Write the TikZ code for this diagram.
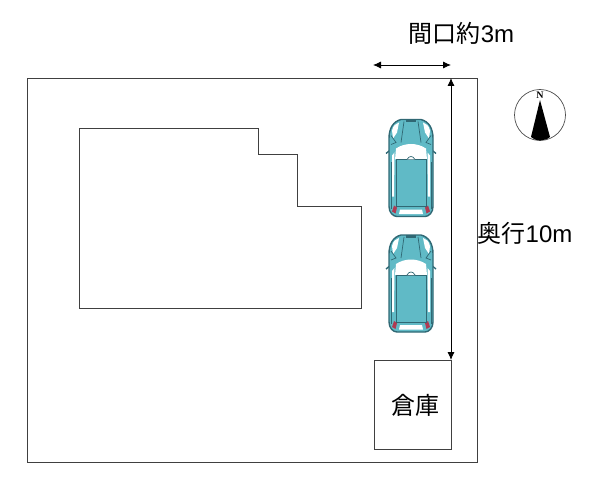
\documentclass[tikz,border=0pt]{standalone}
\usepackage{fontspec}
\setmainfont{Liberation Sans}
\newfontfamily\jpfont{Noto Sans CJK JP}
\usetikzlibrary{arrows.meta}
\definecolor{carbody}{RGB}{96,186,198}
\definecolor{carline}{RGB}{48,104,116}
\definecolor{carlamp}{RGB}{176,58,82}
\tikzset{
  wall/.style = {draw = black!75, line width = .8pt},
  dimline/.style = {draw = black, line width = .8pt, {Latex[length=8pt,width=7pt]}-{Latex[length=8pt,width=7pt]}},
  label/.style = {inner sep = 0pt, font = \fontsize{24}{24}\selectfont},
  pics/car/.style = {code = {
    % mirrors
    \draw[carline, line width = 1.4pt] (-20,-19) -- (-25,-15) (20,-19) -- (25,-15);
    % outer body
    \draw[carline, fill = carbody, line width = 1.4pt]
      (-10,-49) -- (10,-49) .. controls (18,-47) and (22,-40) .. (22,-30)
      -- (22,38) .. controls (22,44) and (18,48) .. (14,48) -- (-14,48)
      .. controls (-18,48) and (-22,44) .. (-22,38) -- (-22,-30)
      .. controls (-22,-40) and (-18,-47) .. (-10,-49) -- cycle;
    % side windows, headlamps, bonnet lines and rear lamps
    \foreach \s in {-1, 1}
    {
      \fill[white] (\s*16.5,-16) -- (\s*19,-13) -- (\s*19,28) -- (\s*17,28) -- cycle;
      \fill[white] (\s*19,-38) .. controls (\s*18,-43) and (\s*15,-45) .. (\s*12,-46) -- (\s*14,-36) -- (\s*18,-30) -- cycle;
      \draw[carline, line width = .7pt] (\s*7,-47) -- (\s*10,-26);
      \draw[carline, line width = .7pt] (\s*20,-24) -- (\s*15,-26) -- (\s*20,-33);
      \draw[carline, line width = .7pt] (\s*20,-6) -- (\s*20,40);
      \fill[carlamp] (\s*14,39) -- (\s*17,37) -- (\s*19,43) -- (\s*15.5,45) -- cycle;
    }
    % windscreen, rear window and roof
    \fill[white] (-15,-20) .. controls (-6,-26) and (6,-26) .. (15,-20) -- (16,-9) -- (-16,-9) -- cycle;
    \draw[carline, line width = .7pt, fill = carbody] (-15,-9) -- (15,-9) -- (15,38) -- (-15,38) -- cycle;
    \draw[carline, line width = .7pt, fill = white] (-4,-9) .. controls (-2,-13) and (2,-13) .. (4,-9);
    \fill[white] (-11,41) -- (11,41) -- (12,45.5) -- (-12,45.5) -- cycle;
    \fill[carline] (-5,-49) rectangle (5,-46.5);
  }}
}
\newcommand{\jplabel}[2]{{\jpfont #1}#2}
\begin{document}
\begin{tikzpicture}
  [x = 1pt, y = -1pt]
  \useasboundingbox (0,0) rectangle (600,484);
  \draw[wall] (27,78) rectangle (477,462);
  \draw[wall] (79,128) -- (258,128) -- (258,154) -- (297,154) -- (297,206) -- (361,206) -- (361,308) -- (79,308) -- cycle;
  \draw[wall] (374,360) rectangle (451,449);
  \node[label] (shed) at (415,405) {\jplabel{倉庫}{}};
  \pic at (411,168.5) {car};
  \pic at (411,284) {car};
  % frontage and depth
  \coordinate (frontL) at (373,65);
  \coordinate (frontR) at (451,65);
  \coordinate (depthT) at (451,78);
  \coordinate (depthB) at (451,360);
  \draw[dimline] (frontL) -- (frontR);
  \draw[dimline] (depthT) -- (depthB);
  \node[label] (frontage) at (461.5,33) {\jplabel{間口約}{3m}};
  \node[label] (depth) at (525,233) {\jplabel{奥行}{10m}};
  % north mark
  \node[draw = black!70, circle, minimum size = 51pt, inner sep = 0pt, line width = .7pt] (compass) at (540,115) {};
  \fill (540,100) -- (550,137) .. controls (545,141.5) and (535,141.5) .. (531,137) -- cycle;
  \node[inner sep = 0pt, font = \fontspec{Liberation Serif}\bfseries\fontsize{10}{10}\selectfont] (north) at (540,95) {N};
\end{tikzpicture}
\end{document}
